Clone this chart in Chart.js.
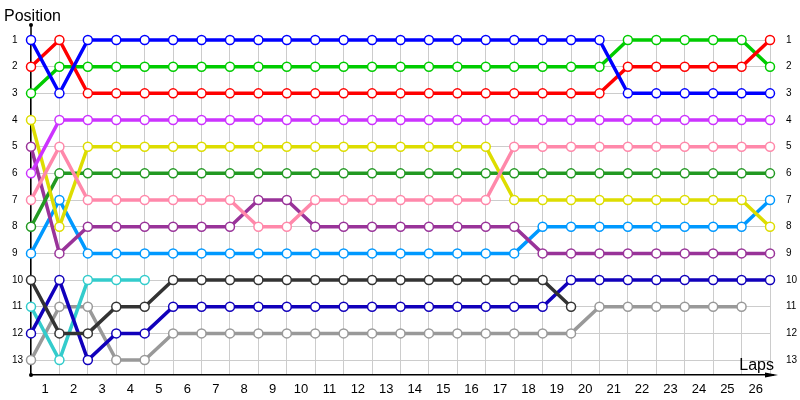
<!DOCTYPE html>
<html>
<head>
<meta charset="utf-8">
<script src="https://cdn.jsdelivr.net/npm/chart.js@4"></script>
<style>
  html, body { margin: 0; padding: 0; background: #fff; }
  #wrap { width: 800px; height: 400px; position: relative; }
</style>
</head>
<body>
<div id="wrap"><canvas id="lapChart"></canvas></div>
<script>
// tick labels
const lapLabels = ['1','2','3','4','5','6','7','8','9','10','11','12','13','14','15','16','17','18','19','20','21','22','23','24','25','26'];
const positionTicks = [1,2,3,4,5,6,7,8,9,10,11,12,13];

// position of every car at the end of each lap (index 0 = grid)
const blueCar      = [1,3,1,1,1,1,1,1,1,1,1,1,1,1,1,1,1,1,1,1,1,3,3,3,3,3,3];
const redCar       = [2,1,3,3,3,3,3,3,3,3,3,3,3,3,3,3,3,3,3,3,3,2,2,2,2,2,1];
const limeCar      = [3,2,2,2,2,2,2,2,2,2,2,2,2,2,2,2,2,2,2,2,2,1,1,1,1,1,2];
const violetCar    = [6,4,4,4,4,4,4,4,4,4,4,4,4,4,4,4,4,4,4,4,4,4,4,4,4,4,4];
const pinkCar      = [7,5,7,7,7,7,7,7,8,8,7,7,7,7,7,7,7,5,5,5,5,5,5,5,5,5,5];
const yellowCar    = [4,8,5,5,5,5,5,5,5,5,5,5,5,5,5,5,5,7,7,7,7,7,7,7,7,7,8];
const greenCar     = [8,6,6,6,6,6,6,6,6,6,6,6,6,6,6,6,6,6,6,6,6,6,6,6,6,6,6];
const plumCar      = [5,9,8,8,8,8,8,8,7,7,8,8,8,8,8,8,8,8,9,9,9,9,9,9,9,9,9];
const skyCar       = [9,7,9,9,9,9,9,9,9,9,9,9,9,9,9,9,9,9,8,8,8,8,8,8,8,8,7];
const charcoalCar  = [10,12,12,11,11,10,10,10,10,10,10,10,10,10,10,10,10,10,10,11,null,null,null,null,null,null,null];
const navyCar      = [12,10,13,12,12,11,11,11,11,11,11,11,11,11,11,11,11,11,11,10,10,10,10,10,10,10,10];
const tealCar      = [11,13,10,10,10,null,null,null,null,null,null,null,null,null,null,null,null,null,null,null,null,null,null,null,null,null,null];
const greyCar      = [13,11,11,13,13,12,12,12,12,12,12,12,12,12,12,12,12,12,12,12,11,11,11,11,11,11,null];

const FONT = '"Liberation Sans", Arial, sans-serif';

function carSet(values, color) {
  return {
    data: values.map((p, i) => ({ x: i, y: p })),
    borderColor: color,
    backgroundColor: '#ffffff',
    borderWidth: 3.5,
    pointRadius: 4.5,
    pointHoverRadius: 4.5,
    pointBorderWidth: 1.5,
    pointBorderColor: color,
    pointBackgroundColor: '#ffffff',
    tension: 0,
    spanGaps: false,
    clip: false
  };
}

// axis arrow, top dot and axis captions
const axisDecor = {
  id: 'axisDecor',
  beforeDatasetsDraw(chart) {
    const { ctx, chartArea: { left, right, top, bottom } } = chart;
    ctx.save();
    ctx.strokeStyle = '#000';
    ctx.fillStyle = '#000';
    ctx.lineWidth = 1.5;
    ctx.beginPath();
    ctx.moveTo(left, 25);
    ctx.lineTo(left, top);
    ctx.stroke();
    ctx.beginPath();
    ctx.moveTo(right, bottom);
    ctx.lineTo(right + 4, bottom);
    ctx.stroke();
    ctx.beginPath();
    ctx.moveTo(right + 8, bottom);
    ctx.lineTo(right - 5, bottom - 2.5);
    ctx.lineTo(right - 5, bottom + 2.5);
    ctx.closePath();
    ctx.fill();
    ctx.beginPath();
    ctx.arc(left, 25, 2, 0, Math.PI * 2);
    ctx.fill();
    ctx.beginPath();
    ctx.arc(left, bottom, 2, 0, Math.PI * 2);
    ctx.fill();
    ctx.font = '16px ' + FONT;
    ctx.textBaseline = 'alphabetic';
    ctx.textAlign = 'left';
    ctx.fillText('Position', 4, 21);
    ctx.textAlign = 'right';
    ctx.fillText('Laps', right + 4, 370);
    ctx.restore();
  }
};

const posTicks = scale => { scale.ticks = positionTicks.map(v => ({ value: v })); };

new Chart(document.getElementById('lapChart'), {
  type: 'line',
  data: {
    datasets: [
      carSet(blueCar, '#0000ff'),
      carSet(redCar, '#ff0000'),
      carSet(limeCar, '#00cc00'),
      carSet(violetCar, '#cc33ff'),
      carSet(pinkCar, '#ff88aa'),
      carSet(yellowCar, '#dddd00'),
      carSet(greenCar, '#229922'),
      carSet(plumCar, '#993399'),
      carSet(skyCar, '#0099ff'),
      carSet(charcoalCar, '#333333'),
      carSet(navyCar, '#1100bb'),
      carSet(tealCar, '#33cccc'),
      carSet(greyCar, '#999999')
    ]
  },
  plugins: [axisDecor],
  options: {
    responsive: true,
    maintainAspectRatio: false,
    animation: false,
    events: [],
    layout: { padding: { left: 12, top: 40, right: 0, bottom: 4 } },
    plugins: {
      legend: { display: false },
      title: { display: false },
      tooltip: { enabled: false }
    },
    scales: {
      x: {
        type: 'linear',
        position: 'bottom',
        min: 0,
        max: 26,
        weight: 0,
        afterBuildTicks: scale => { scale.ticks = [0, ...lapLabels.map((l, i) => i + 1)].map(v => ({ value: v })); },
        afterFit: scale => { scale.height = 0; },
        ticks: { display: false },
        grid: { color: '#cccccc', lineWidth: 1, drawTicks: false },
        border: { display: true, color: '#000', width: 1.5 }
      },
      laps: {
        type: 'linear',
        position: 'bottom',
        min: 0,
        max: 26,
        weight: 1,
        afterBuildTicks: scale => { scale.ticks = lapLabels.map((l, i) => ({ value: i + 0.5 })); },
        afterFit: scale => { scale.height = 21; },
        ticks: {
          callback: (v, i) => lapLabels[i],
          autoSkip: false,
          maxRotation: 0,
          padding: 7,
          color: '#000',
          font: { family: FONT, size: 13 }
        },
        grid: { display: false, drawTicks: false },
        border: { display: false }
      },
      y: {
        type: 'linear',
        position: 'left',
        reverse: true,
        min: 1,
        max: 13.56,
        afterBuildTicks: posTicks,
        afterFit: scale => { scale.width = 19; },
        ticks: {
          crossAlign: 'far',
          autoSkip: false,
          color: '#000',
          font: { family: FONT, size: 10 }
        },
        grid: { color: '#cccccc', lineWidth: 1, drawTicks: false },
        border: { display: true, color: '#000', width: 1.5 }
      },
      yRight: {
        type: 'linear',
        position: 'right',
        reverse: true,
        min: 1,
        max: 13.56,
        afterBuildTicks: posTicks,
        afterFit: scale => { scale.width = 30; },
        ticks: {
          crossAlign: 'near',
          padding: 8,
          autoSkip: false,
          color: '#000',
          font: { family: FONT, size: 10 }
        },
        grid: { display: false },
        border: { display: false }
      }
    }
  }
});
</script>
</body>
</html>
